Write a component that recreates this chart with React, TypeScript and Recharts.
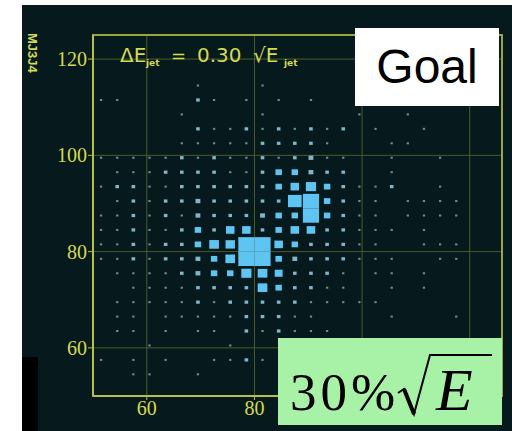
import React from 'react';
import { ScatterChart, Scatter, XAxis, YAxis, CartesianGrid, ReferenceArea } from 'recharts';

// ---- data ----
const xBinCenters = [51.5, 54.5, 57.5, 60.5, 63.5, 66.5, 69.5, 72.5, 75.5, 78.5, 81.5, 84.5, 87.5, 90.5, 93.5, 96.5, 99.5, 102.5, 105.5, 108.5, 111.5, 114.5, 117.5, 120.5, 123.5];
const yBinCenters = [114.5, 111.5, 108.5, 105.5, 102.5, 99.5, 96.5, 93.5, 90.5, 87.5, 84.5, 81.5, 78.5, 75.5, 72.5, 69.5, 66.5, 63.5, 60.5, 57.5, 54.5];

const row114_5 = [0,0,0,0,0,0,2,0,0,0,2,0,0,0,0,0,0,0,0,0,0,0,0,0,0];
const row111_5 = [2,2,0,0,0,0,5,2,0,2,0,2,0,2,0,0,0,0,0,0,0,0,0,0,0];
const row108_5 = [0,0,0,0,0,2,0,0,0,0,2,0,0,0,0,0,2,0,0,2,0,0,0,0,0];
const row105_5 = [0,0,0,0,0,0,5,2,2,5,2,5,2,5,2,5,0,2,0,0,2,0,0,0,0];
const row102_5 = [0,0,0,0,0,2,2,2,2,2,5,5,5,5,2,0,0,0,2,2,0,0,0,0,0];
const row99_5 = [2,2,2,2,2,5,2,5,2,2,5,2,5,9,2,2,0,0,2,0,0,2,0,0,0];
const row96_5 = [0,2,2,2,5,5,5,5,2,2,5,16,16,9,5,5,0,0,2,0,0,0,0,0,0];
const row93_5 = [2,5,5,2,2,5,5,5,5,5,5,16,28,40,16,5,2,2,5,0,0,2,0,0,0];
const row90_5 = [0,2,5,2,5,5,9,5,5,5,5,5,72,100,16,5,2,2,0,2,2,2,2,0,0];
const row87_5 = [2,2,5,2,5,2,9,5,5,5,9,16,16,100,16,5,2,2,0,2,2,2,2,0,0];
const row84_5 = [2,2,5,2,2,5,16,5,28,28,5,16,28,28,5,5,2,2,2,0,2,0,0,0,0];
const row81_5 = [2,2,5,2,5,5,16,36,34,100,100,28,16,5,5,5,2,2,0,0,2,2,2,0,0];
const row78_5 = [2,2,5,2,5,5,9,16,36,100,100,16,9,5,5,5,2,2,2,0,0,2,2,0,0];
const row75_5 = [0,2,2,2,2,5,9,16,16,40,36,24,5,5,5,2,0,2,2,0,2,0,0,0,0];
const row72_5 = [0,0,2,2,2,2,5,5,5,5,36,16,5,5,2,2,0,0,2,0,2,0,0,0,0];
const row69_5 = [0,2,2,2,2,2,5,2,5,5,5,5,5,2,2,2,2,2,0,0,0,0,0,0,0];
const row66_5 = [0,2,2,0,2,2,2,2,2,5,5,5,2,2,0,0,0,0,2,0,0,0,2,0,0];
const row63_5 = [0,2,2,0,2,0,2,2,0,5,2,5,2,2,2,0,0,0,0,0,0,0,0,0,0];
const row60_5 = [0,0,0,2,0,0,0,0,2,0,0,0,2,0,0,0,0,0,0,0,0,0,0,0,0];
const row57_5 = [2,0,2,0,2,0,0,2,2,5,2,0,0,0,0,0,0,0,0,0,0,0,0,0,0];
const row54_5 = [0,0,2,2,0,0,2,0,0,0,0,0,0,0,0,0,0,0,0,0,0,0,0,0,0];

const rowCounts = [row114_5, row111_5, row108_5, row105_5, row102_5, row99_5, row96_5, row93_5, row90_5, row87_5, row84_5, row81_5, row78_5, row75_5, row72_5, row69_5, row66_5, row63_5, row60_5, row57_5, row54_5];

const maxCount = 100;
const binWidth = 3;
const xDomain: [number, number] = [50, 126];
const yDomain: [number, number] = [50, 125];
const xTicks = [60, 80, 100, 120];
const yTicks = [60, 80, 100, 120];
const xTicksHiddenBehindBox = [100, 120];
const yAxisTitle = 'MJ3J4';

const cells = rowCounts.flatMap((counts, j) =>
  counts.map((c, i) => ({ x: xBinCenters[i], y: yBinCenters[j], c }))
).filter((d) => d.c > 0);

// ---- layout / style ----
const CHART_W = 512;
const CHART_H = 431;
const MARGIN = { top: 35, right: 10, bottom: 5, left: 33 };
const Y_AXIS_W = 60;
const X_AXIS_H = 30;
const PLOT_W = CHART_W - MARGIN.left - MARGIN.right - Y_AXIS_W;
const PLOT_H = CHART_H - MARGIN.top - MARGIN.bottom - X_AXIS_H;
const BIN_PX_X = (binWidth * PLOT_W) / (xDomain[1] - xDomain[0]);
const BIN_PX_Y = (binWidth * PLOT_H) / (yDomain[1] - yDomain[0]);

const BG = '#06191c';
const FRAME = '#b3c04a';
const GRID = '#4b5c2a';
const TEXT = '#d4da52';

const BinBox = (props: any) => {
  const { cx, cy, payload } = props;
  if (cx == null || cy == null) return null;
  const f = Math.sqrt(payload.c / maxCount);
  const w = BIN_PX_X * f;
  const h = BIN_PX_Y * f;
  let fill = '#5ec4f2';
  let op = 1;
  if (f < 0.2) { fill = '#8aa9b0'; op = 0.8; }
  else if (f < 0.35) { fill = '#8cc3d8'; op = 0.92; }
  return <rect x={cx - w / 2} y={cy - h / 2} width={w} height={h} fill={fill} fillOpacity={op} />;
};

export default function App() {
  return (
    <div style={{ position: 'absolute', left: 0, top: 0, width: 512, height: 431, background: '#fff', overflow: 'hidden' }}>
      <div style={{ position: 'absolute', left: 22, top: 5, width: 490, height: 426, background: BG }} />
      <div style={{ position: 'absolute', left: 22, top: 357, width: 16, height: 74, background: '#000' }} />
      <div style={{ position: 'absolute', left: 0, top: 0 }}>
        <ScatterChart width={CHART_W} height={CHART_H} margin={MARGIN}>
          <CartesianGrid stroke={GRID} strokeWidth={1} />
          <XAxis
            type="number"
            dataKey="x"
            domain={xDomain}
            ticks={xTicks}
            allowDataOverflow
            height={X_AXIS_H}
            tickSize={4}
            tickMargin={1}
            tickFormatter={(v: number) => (xTicksHiddenBehindBox.includes(v) ? '' : String(v))}
            axisLine={{ stroke: FRAME, strokeWidth: 2 }}
            tickLine={{ stroke: FRAME, strokeWidth: 1 }}
            tick={{ fill: TEXT, fontSize: 20, fontFamily: 'Liberation Serif' }}
          />
          <YAxis
            type="number"
            dataKey="y"
            domain={yDomain}
            ticks={yTicks}
            allowDataOverflow
            width={Y_AXIS_W}
            tickSize={5}
            tickMargin={1}
            axisLine={{ stroke: FRAME, strokeWidth: 2 }}
            tickLine={{ stroke: FRAME, strokeWidth: 1 }}
            tick={{ fill: TEXT, fontSize: 20, fontFamily: 'Liberation Serif' }}
          />
          <ReferenceArea x1={xDomain[0]} x2={xDomain[1]} y1={yDomain[0]} y2={yDomain[1]} fill="none" stroke={FRAME} strokeWidth={2} strokeOpacity={0.8} />
          <Scatter data={cells} shape={BinBox} isAnimationActive={false} />
        </ScatterChart>
      </div>
      <svg width={512} height={431} style={{ position: 'absolute', left: 0, top: 0, pointerEvents: 'none' }}>
        <g fill={TEXT} fontFamily="DejaVu Sans">
          <text x={120} y={62} fontSize={20}>ΔE</text>
          <text x={146} y={66} fontSize={9} fontWeight="bold">jet</text>
          <text x={171} y={62} fontSize={18}>=</text>
          <text x={197} y={62} fontSize={20}>0.30</text>
          <text x={253} y={62} fontSize={20}>√E</text>
          <text x={284} y={66} fontSize={9} fontWeight="bold">jet</text>
        </g>
        <text transform="translate(28,33) rotate(90)" fill={TEXT} fontFamily="Liberation Sans" fontWeight="bold" fontSize={13}>{yAxisTitle}</text>
      </svg>
      <div style={{ position: 'absolute', left: 355, top: 28, width: 144, height: 78, background: '#fff', display: 'flex', alignItems: 'center', justifyContent: 'center', fontFamily: 'Liberation Sans', fontSize: 48, color: '#000', lineHeight: 1 }}>
        Goal
      </div>
      <div style={{ position: 'absolute', left: 278, top: 338, width: 224, height: 87, background: '#a8f2a8' }}>
        <svg width={224} height={87}>
          <text x={12} y={72} fontFamily="Liberation Serif" fontSize={53} letterSpacing={4} fill="#000">30%</text>
          <path d="M120 55 L126 51 L136 76 L152 17 L214 17" fill="none" stroke="#000" strokeWidth={2} />
          <path d="M126 51 L136 76" fill="none" stroke="#000" strokeWidth={4} />
          <text x={158} y={72} fontFamily="Liberation Serif" fontStyle="italic" fontSize={60} fill="#000">E</text>
        </svg>
      </div>
    </div>
  );
}
